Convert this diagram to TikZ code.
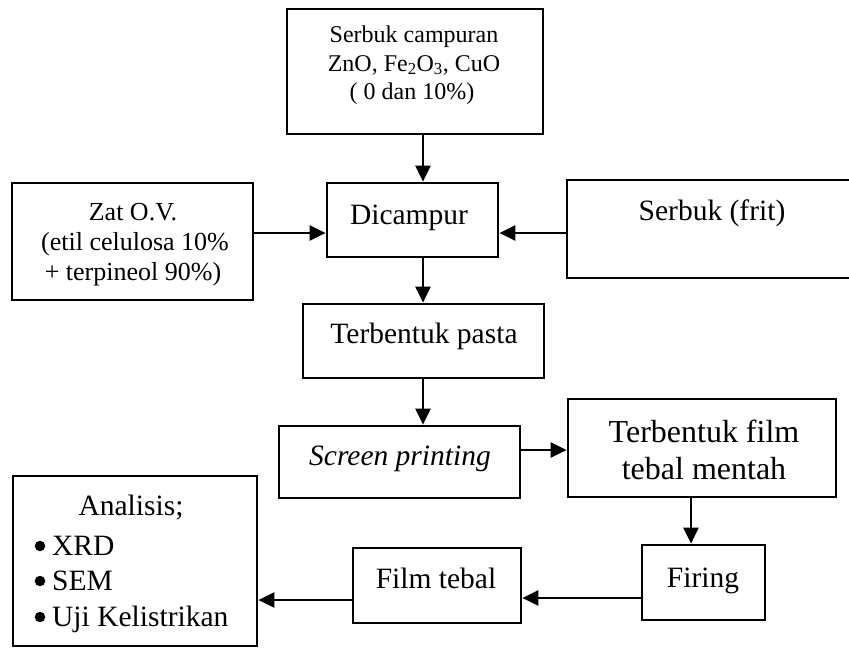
\documentclass[tikz,border=0pt]{standalone}
\usepackage{fontspec}
\setmainfont{Liberation Serif}
\usetikzlibrary{arrows.meta}
\begin{document}
\begin{tikzpicture}[x=1pt,y=-1pt,
  box/.style={draw, line width=2.7pt, inner sep=0pt, rectangle},
  txt/.style={inner sep=0pt, anchor=base, font=\fontsize{29.5}{31}\selectfont},
  small/.style={txt, font=\fontsize{24}{28}\selectfont},
  mid/.style={txt, font=\fontsize{26}{30}\selectfont},
  big/.style={txt, font=\fontsize{32}{36}\selectfont},
  dot/.style={fill, circle, inner sep=0pt, minimum size=10.5pt},
  arr/.style={line width=2.7pt, -{Triangle[length=16pt,width=15pt]}}]
\useasboundingbox (0,0) rectangle (849,648);
\clip (0,0) rectangle (849,648);
% boxes
\node[box, minimum width=256pt, minimum height=125pt] (top) at (415,71.5) {};
\node[box, minimum width=171pt, minimum height=74pt] (dic) at (412.5,220) {};
\node[box, minimum width=241pt, minimum height=117pt] (zat) at (132.5,241.5) {};
\node[box, minimum width=313pt, minimum height=98pt] (frit) at (723.5,229) {};
\node[box, minimum width=241pt, minimum height=74pt] (pasta) at (423.5,341) {};
\node[box, minimum width=241pt, minimum height=72pt] (scr) at (399.5,462) {};
\node[box, minimum width=268pt, minimum height=98pt] (film) at (702,448) {};
\node[box, minimum width=123pt, minimum height=75pt] (fir) at (703.5,582.5) {};
\node[box, minimum width=168pt, minimum height=75pt] (ftb) at (437,585.5) {};
\node[box, minimum width=244pt, minimum height=170pt] (ana) at (135,561) {};
% texts
\node[small] (top1) at (414,42) {Serbuk campuran};
\node[small] (top2) at (414,71) {ZnO, Fe\textsubscript{2}O\textsubscript{3}, CuO};
\node[small] (top3) at (412,99) {( 0 dan 10\%)};
\node[txt] (dicT) at (409,224) {Dicampur};
\node[mid] (zat1) at (133,220) {Zat O.V.};
\node[mid] (zat2) at (135,250) {(etil celulosa 10\%};
\node[mid] (zat3) at (133,280) {+ terpineol 90\%)};
\node[txt] (fritT) at (712,220) {Serbuk (frit)};
\node[txt] (pastaT) at (424,343) {Terbentuk pasta};
\node[txt] (scrT) at (400,465) {\itshape Screen printing};
\node[big] (film1) at (704,442) {Terbentuk film};
\node[big] (film2) at (704,479) {tebal mentah};
\node[txt] (firT) at (703,587) {Firing};
\node[txt] (ftbT) at (436,588) {Film tebal};
\node[txt] (anaT) at (131,515) {Analisis;};
\node[txt, anchor=base west] (anaA) at (52,555) {XRD};
\node[txt, anchor=base west] (anaB) at (52,590) {SEM};
\node[txt, anchor=base west] (anaC) at (52,626) {Uji Kelistrikan};
\node[dot] (dA) at (40,546) {};
\node[dot] (dB) at (40,581) {};
\node[dot] (dC) at (40,617) {};
% connector guides
\coordinate (xa) at (423,0);
\coordinate (xb) at (691,0);
\coordinate (ya) at (0,233);
\coordinate (yb) at (0,450);
\coordinate (yc) at (0,598);
\coordinate (yd) at (0,600);
% connectors
\draw[arr] (top.south -| xa) -- (dic.north -| xa);
\draw[arr] (zat.east |- ya) -- (dic.west |- ya);
\draw[arr] (frit.west |- ya) -- (dic.east |- ya);
\draw[arr] (dic.south -| xa) -- (pasta.north -| xa);
\draw[arr] (pasta.south -| xa) -- (scr.north -| xa);
\draw[arr] (scr.east |- yb) -- (film.west |- yb);
\draw[arr] (film.south -| xb) -- (fir.north -| xb);
\draw[arr] (fir.west |- yc) -- (ftb.east |- yc);
\draw[arr] (ftb.west |- yd) -- (ana.east |- yd);
\end{tikzpicture}
\end{document}
